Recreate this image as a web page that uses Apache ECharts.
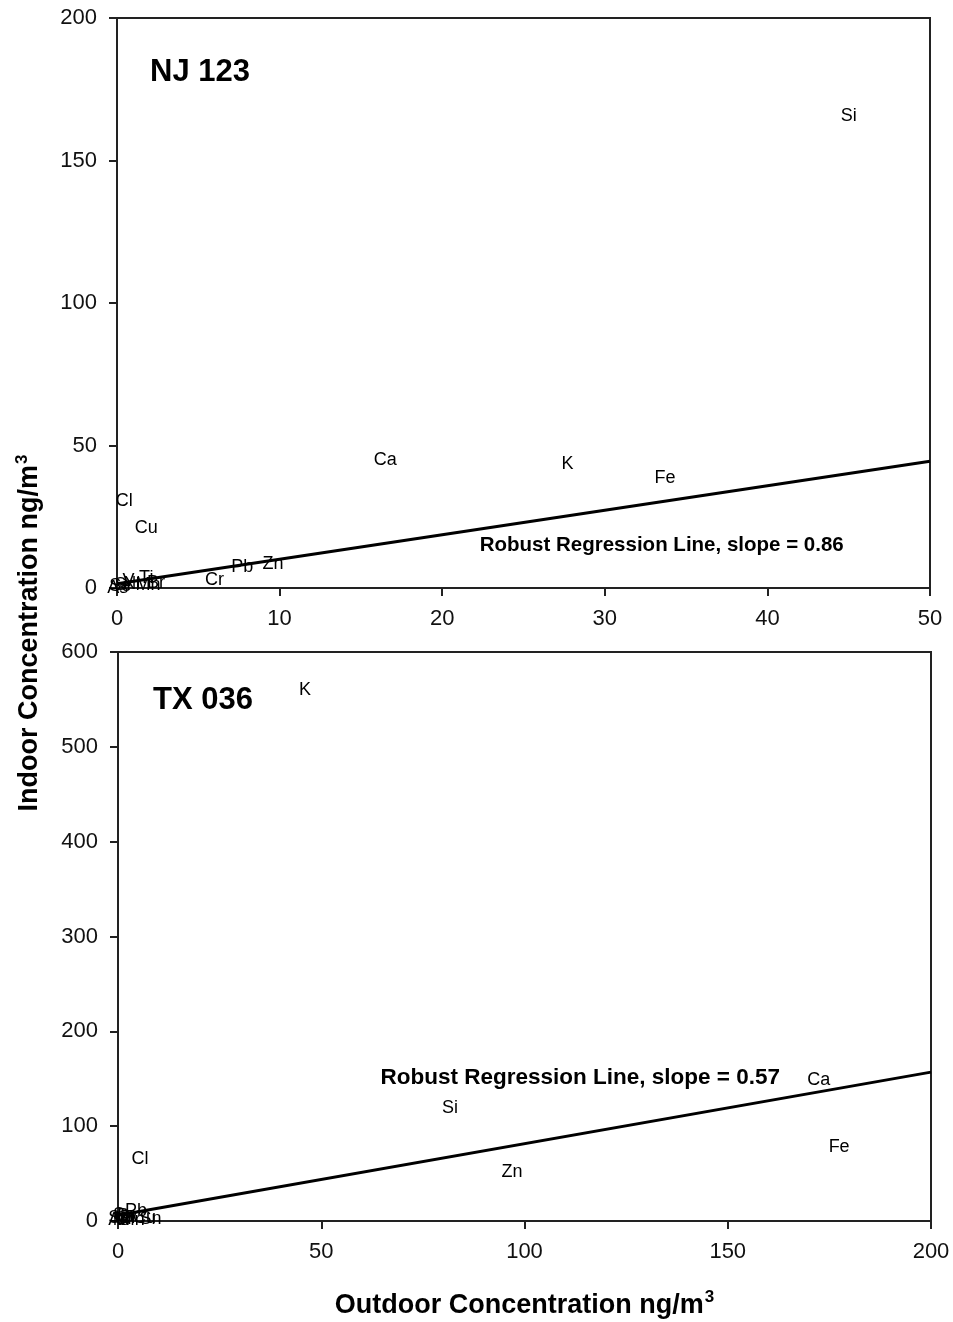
<!DOCTYPE html>
<html>
<head>
<meta charset="utf-8">
<script src="https://cdn.jsdelivr.net/npm/echarts@6/dist/echarts.min.js"></script>
<style>html,body{margin:0;padding:0;background:#fff;}#c{width:953px;height:1322px;}</style>
</head>
<body>
<div id="c"></div>
<script>
// NJ 123 (top panel)
const njElements = ['Si','Ca','K','Fe','Cl','Cu','Zn','Pb','Cr','Ti','Br','Mn','V','Ni','Sr','Se','As'];
const njOutdoor  = [45.0, 16.5, 27.7, 33.7, 0.45, 1.8, 9.6, 7.7, 6.0, 1.8, 2.4, 1.9, 0.7, 0.9, 0.4, 0.2, 0.05];
const njIndoor   = [165.6, 44.9, 43.5, 38.6, 30.5, 21.0, 8.4, 7.3, 2.8, 3.4, 1.9, 1.2, 2.4, 1.4, 1.0, 0.6, 0.1];
const njLine     = [[0, 1.5], [50, 44.5]];
const njSlopeText = 'Robust Regression Line, slope = 0.86';
const njSlopePos  = [33.5, 15.1];

// TX 036 (bottom panel)
const txElements = ['K','Ca','Si','Fe','Zn','Cl','Pb','Cu','Sn','Ti','Mn','Br','Cr','Sr','Ni','V','Se','As'];
const txOutdoor  = [46.0, 172.4, 81.7, 177.4, 96.9, 5.4, 4.4, 6.5, 8.0, 2.5, 3.5, 2.0, 1.5, 1.0, 0.8, 0.5, 0.3, 0.2];
const txIndoor   = [560, 148.7, 119, 78, 51.7, 65.4, 11, 3, 2, 3, 1.5, 5, 2, 6, 1, 0.5, 3, 0.5];
const txLine     = [[0, 6], [200, 157]];
const txSlopeText = 'Robust Regression Line, slope = 0.57';
const txSlopePos  = [113.7, 150.8];

const xTicksTop = {min: 0, max: 50, interval: 10};
const yTicksTop = {min: 0, max: 200, interval: 50};
const xTicksBot = {min: 0, max: 200, interval: 50};
const yTicksBot = {min: 0, max: 600, interval: 100};

const FONT = 'Liberation Sans, Arial, sans-serif';

function pts(names, xs, ys) {
  return names.map((n, i) => ({name: n, value: [xs[i], ys[i]]}));
}
function axis(t, gi, extra) {
  return Object.assign({
    type: 'value', gridIndex: gi, min: t.min, max: t.max, interval: t.interval,
    splitLine: {show: false},
    axisLine: {show: true, onZero: false, lineStyle: {color: '#222', width: 2}},
    axisTick: {show: true, inside: false, length: 8, lineStyle: {color: '#222', width: 2}},
    axisLabel: {color: '#111', fontSize: 22, fontFamily: FONT, margin: 20}
  }, extra || {});
}
function labelSeries(data, xi, yi) {
  return {
    type: 'scatter', xAxisIndex: xi, yAxisIndex: yi, data: data,
    symbolSize: 1, itemStyle: {color: 'rgba(0,0,0,0)', opacity: 1}, silent: true,
    label: {show: true, position: 'inside', formatter: '{b}', color: '#000', fontSize: 18, fontFamily: FONT},
    labelLayout: {hideOverlap: false},
    emphasis: {disabled: true}, z: 3
  };
}
function lineSeries(data, xi, yi) {
  return {
    type: 'line', xAxisIndex: xi, yAxisIndex: yi, data: data, symbol: 'none',
    lineStyle: {color: '#000', width: 3}, silent: true, z: 4
  };
}
function noteSeries(text, pos, xi, yi, size) {
  return {
    type: 'scatter', xAxisIndex: xi, yAxisIndex: yi, data: [{name: text, value: pos}],
    symbolSize: 1, itemStyle: {color: 'rgba(0,0,0,0)', opacity: 1}, silent: true,
    label: {show: true, position: 'inside', formatter: '{b}', color: '#000', fontSize: size, fontWeight: 'bold', fontFamily: FONT},
    emphasis: {disabled: true}, z: 5
  };
}

const chart = echarts.init(document.getElementById('c'), null, {renderer: 'canvas'});
chart.setOption({
  backgroundColor: '#fff',
  animation: false,
  title: [
    {text: 'NJ 123', left: 150, top: 57, padding: 0, textStyle: {fontSize: 31, fontWeight: 'bold', color: '#000', fontFamily: FONT}},
    {text: 'TX 036', left: 153, top: 685, padding: 0, textStyle: {fontSize: 31, fontWeight: 'bold', color: '#000', fontFamily: FONT}}
  ],
  grid: [
    {left: 117, top: 18, width: 813, height: 570, show: true, borderColor: '#222', borderWidth: 2, backgroundColor: 'transparent'},
    {left: 118, top: 652, width: 813, height: 569, show: true, borderColor: '#222', borderWidth: 2, backgroundColor: 'transparent'}
  ],
  xAxis: [
    axis(xTicksTop, 0),
    axis(xTicksBot, 1, {
      name: 'Outdoor Concentration ng/m{sup|3}', nameLocation: 'middle', nameGap: 68,
      nameTextStyle: {fontSize: 27, fontWeight: 'bold', color: '#000', fontFamily: FONT,
        rich: {sup: {fontSize: 17, fontWeight: 'bold', color: '#000', fontFamily: FONT, padding: [0, 0, 16, 1]}}}
    })
  ],
  yAxis: [axis(yTicksTop, 0), axis(yTicksBot, 1)],
  graphic: [{
    type: 'text', x: 30, y: 633, rotation: Math.PI / 2,
    style: {
      text: 'Indoor Concentration ng/m{sup|3}', textAlign: 'center', textVerticalAlign: 'middle',
      fontSize: 27, fontWeight: 'bold', fill: '#000', fontFamily: FONT,
      rich: {sup: {fontSize: 17, fontWeight: 'bold', fill: '#000', fontFamily: FONT, padding: [0, 0, 16, 1]}}
    }
  }],
  series: [
    labelSeries(pts(njElements, njOutdoor, njIndoor), 0, 0),
    lineSeries(njLine, 0, 0),
    noteSeries(njSlopeText, njSlopePos, 0, 0, 20.5),
    labelSeries(pts(txElements, txOutdoor, txIndoor), 1, 1),
    lineSeries(txLine, 1, 1),
    noteSeries(txSlopeText, txSlopePos, 1, 1, 22.5)
  ]
});
</script>
</body>
</html>
